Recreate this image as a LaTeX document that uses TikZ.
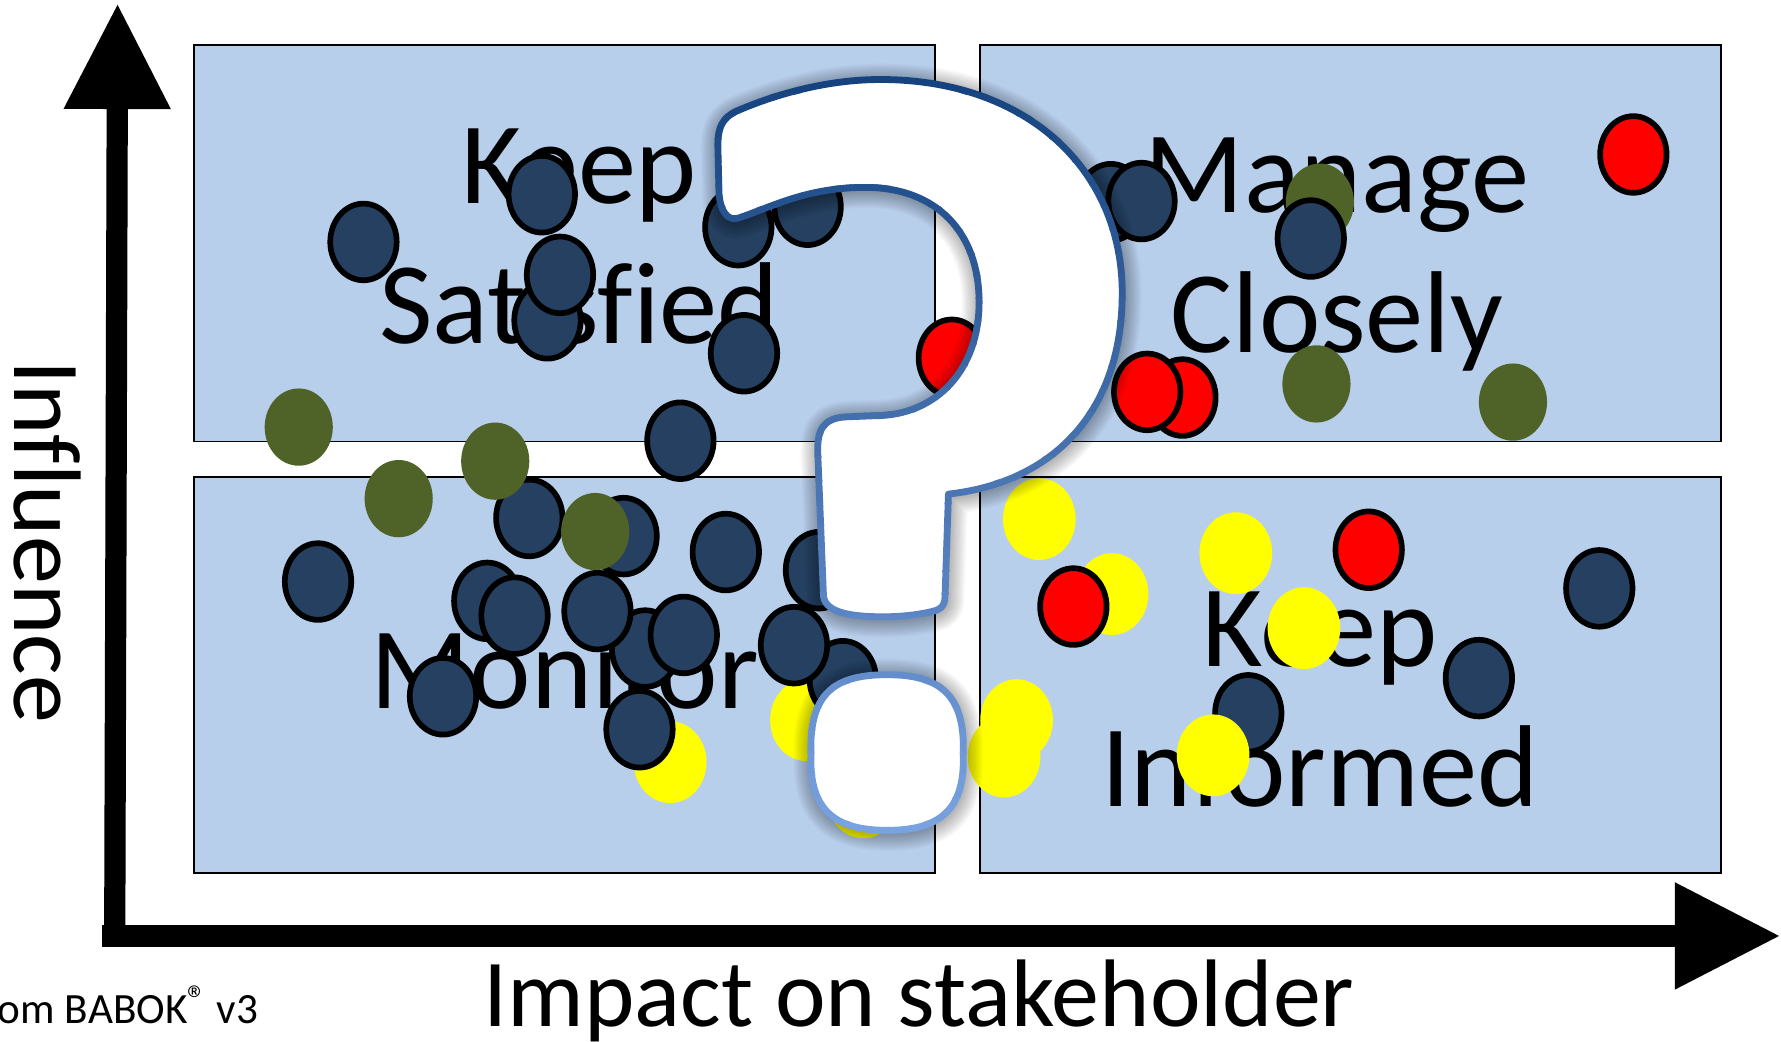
\documentclass[tikz,border=0pt]{standalone}
\usepackage{fontspec}
\setmainfont{Carlito}[Ligatures=NoCommon]
\usetikzlibrary{arrows.meta,shapes.geometric}
\definecolor{quad}{HTML}{B8CFEC}
\definecolor{navy}{HTML}{254061}
\definecolor{olive}{HTML}{4F6228}
\definecolor{qtop}{HTML}{15437F}
\definecolor{qbot}{HTML}{7BA4E2}
\definecolor{pureyellow}{rgb}{1,1,0}
\definecolor{purered}{rgb}{1,0,0}
\tikzset{
  quadbox/.style={draw=black,line width=1.4pt,fill=quad,minimum width=652.5pt,minimum height=349pt,anchor=north west,inner sep=0pt},
  bigtext/.style={font=\fontsize{102.5}{123}\selectfont,align=center,anchor=base,inner sep=0pt,text=black},
  axistext/.style={font=\fontsize{84.5}{100}\selectfont,anchor=base,inner sep=0pt,text=black},
  blob/.style={ellipse,minimum width=58.5pt,minimum height=67.5pt,inner sep=0pt,draw=black,line width=5pt,outer sep=0pt},
  navyblob/.style={blob,fill=navy},
  redblob/.style={blob,fill=purered},
  yellowblob/.style={ellipse,minimum width=64pt,minimum height=72pt,inner sep=0pt,fill=pureyellow},
  oliveblob/.style={ellipse,minimum width=60pt,minimum height=68pt,inner sep=0pt,fill=olive},
  axisline/.style={line width=18.7pt,-{Triangle[length=93pt,width=89pt]}},
}
\newcommand{\qpath}{(633,170) -- (632,128) .. controls (632,112) and (636,104) .. (648,98)
  .. controls (685,82) and (730,70) .. (775,70)
  .. controls (905,70) and (988,150) .. (988,258)
  .. controls (988,365) and (925,425) .. (835,435)
  -- (832,525) .. controls (832,535) and (826,537) .. (822,538)
  .. controls (810,541) and (795,543) .. (778,543)
  .. controls (755,543) and (727,541) .. (725,525)
  -- (720,400) .. controls (719,378) and (725,368) .. (745,367)
  -- (770,366) .. controls (825,366) and (862,325) .. (862,266)
  .. controls (862,205) and (825,165) .. (762,165)
  .. controls (710,165) and (680,182) .. (650,192)
  .. controls (640,195) and (634,185) .. (633,170) -- cycle}
\newcommand{\dpath}{(714,664) .. controls (712,610) and (735,594) .. (781,594)
  .. controls (828,594) and (850,612) .. (848,664)
  .. controls (850,715) and (825,731) .. (781,731)
  .. controls (737,731) and (712,715) .. (714,664) -- cycle}
\begin{document}
\begin{tikzpicture}[x=1pt,y=-1pt]
\useasboundingbox (0,0) rectangle (1568,916.5);
\clip (0,0) rectangle (1568,916.5);
\fill[white] (0,0) rectangle (1568,916.5);
% quadrants
\node[quadbox] (qa) at (170,39) {};
\node[quadbox] (qb) at (862,39) {};
\node[quadbox] (qc) at (170,419) {};
\node[quadbox] (qd) at (862,419) {};
% labels
\node[bigtext] (keepsat) at (510,302) {Keep\\Satisfied};
\node[bigtext] (manage) at (1177,310) {Manage\\Closely};
\node[bigtext] (monitor) at (497,624) {Monitor};
\node[bigtext] (keepinf) at (1162,710) {Keep\\Informed};
% blobs, back to front
\foreach \i/\x/\y in {1/590/671,2/710/634,3/760/702,4/915/457,5/979/523,6/1088/487,7/895/634,8/884/666,9/1148/553}
  \node[yellowblob] (y\i) at (\x,\y) {};
\foreach \i/\x/\y in {1/320/213,2/711/182,3/650/200,4/477/171,5/482/282,6/493/242,7/655/311,8/599/388,9/978/178,10/1005/177,11/280/512,12/466/456,13/549/472,14/639/486,15/721/502,16/429/529,17/453/542,18/742/598,19/568/571,20/526/538,21/602/559,22/699/568,23/390/613,24/563/642,25/1408/518,26/1302/597,27/1099/628}
  \node[navyblob] (n\i) at (\x,\y) {};
\node[yellowblob] (y10) at (1068,665) {};
\foreach \i/\x/\y in {1/263/376,2/351/439,3/436/406,4/524/468,5/1162/178,6/1159/338,7/1332/354}
  \node[oliveblob] (o\i) at (\x,\y) {};
\node[navyblob] (n28) at (1154,210) {};
\foreach \i/\x/\y in {1/838/315,2/1438/136,3/1041/350,4/1010/345,5/945/534,6/1205/484}
  \node[redblob] (r\i) at (\x,\y) {};
% axes
\coordinate (vbase) at (101,824);
\coordinate (vtip) at (103.5,3);
\coordinate (hbase) at (90,824);
\coordinate (htip) at (1567.5,824);
\draw[axisline] (vbase) -- (vtip);
\draw[axisline] (hbase) -- (htip);
% axis labels
\node[axistext] (xlabel) at (809,904) {Impact on stakeholder};
\node[axistext,rotate=-90] (ylabel) at (13,477) {Influence};
\node[anchor=base west,inner sep=0pt,font=\fontsize{38}{40}\selectfont] (source) at (-2,901) {om BABOK\raisebox{.25em}{\fontsize{34}{34}\selectfont ®} v3};
% question mark: soft shadow
\foreach \w in {32,29,...,5}{
  \draw[black,opacity=.03,line width=\w pt,line join=round,shift={(1,2)}] \qpath;
  \draw[black,opacity=.03,line width=\w pt,line join=round,shift={(1,2)}] \dpath;
}
\fill[white] \qpath;
\fill[white] \dpath;
% question mark: outline with vertical colour gradient
\foreach \b in {0,1,...,34}{
  \pgfmathsetmacro{\ya}{62+\b*20}
  \pgfmathsetmacro{\yb}{\ya+21}
  \pgfmathtruncatemacro{\p}{100-\b*100/34}
  \begin{scope}
    \clip (600,\ya) rectangle (1000,\yb);
    \draw[qtop!\p!qbot,line width=6pt,line join=round] \qpath;
    \draw[qtop!\p!qbot,line width=6pt,line join=round] \dpath;
  \end{scope}
}
\end{tikzpicture}
\end{document}
